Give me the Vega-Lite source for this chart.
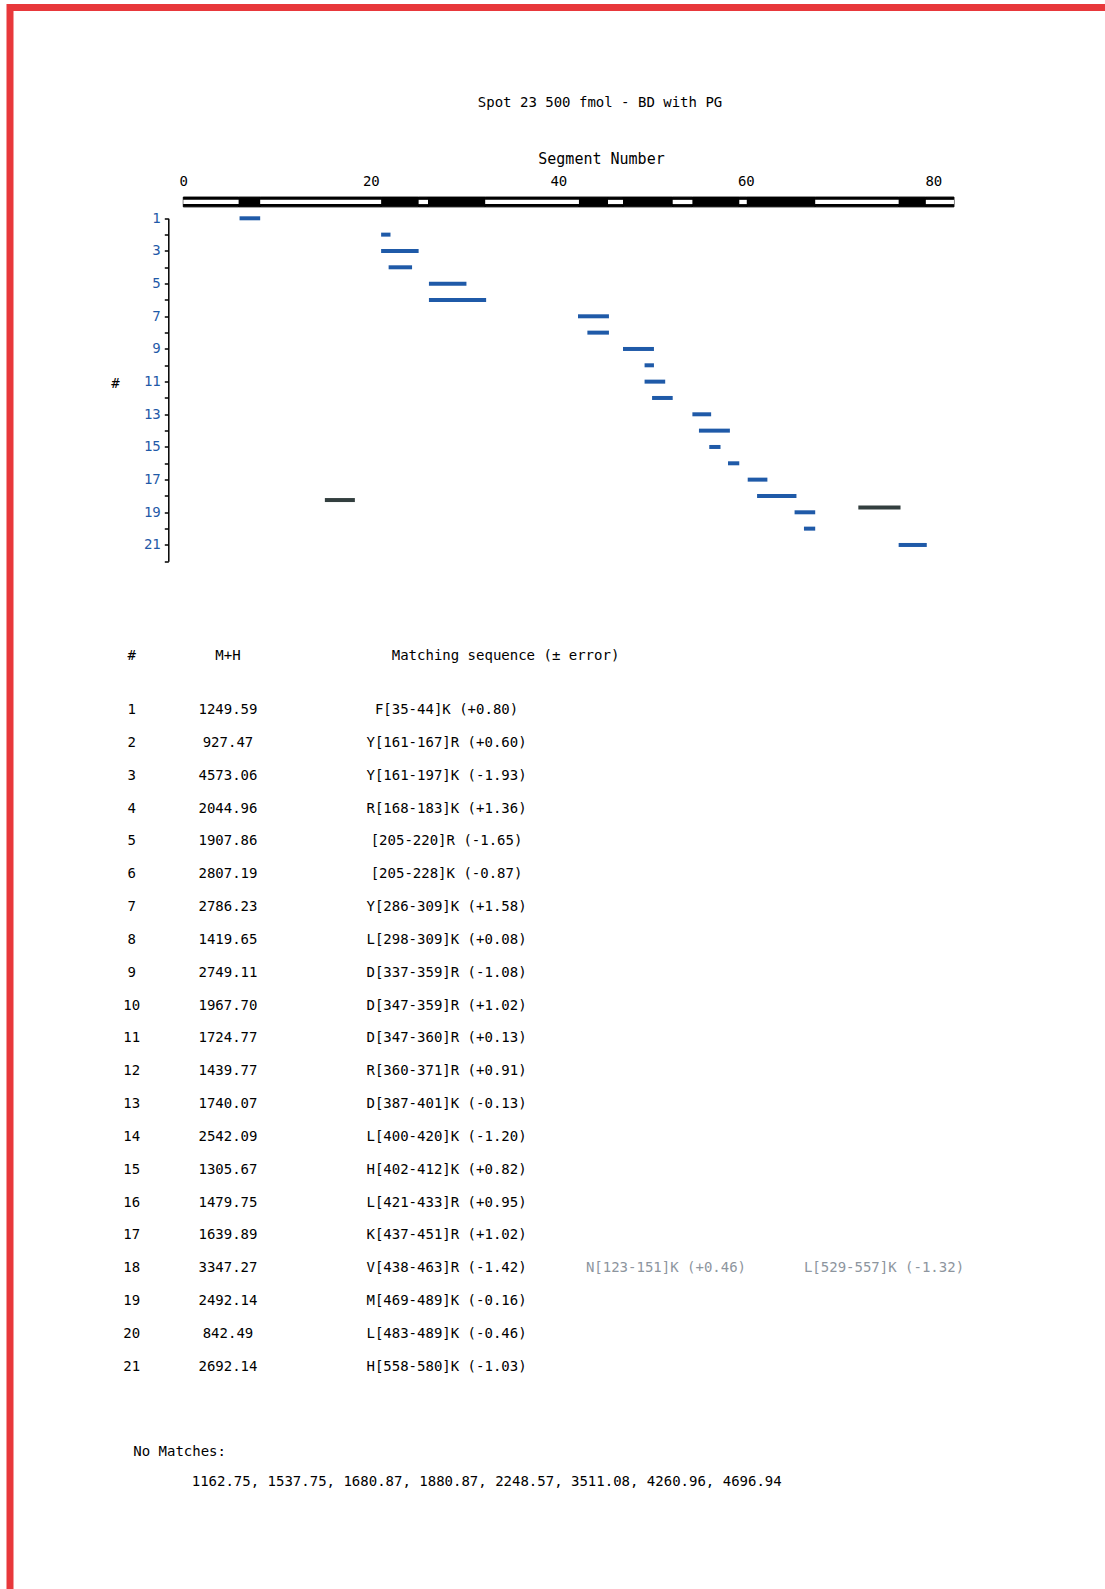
{
  "$schema": "https://vega.github.io/schema/vega-lite/v6.json",
  "width": 1095,
  "height": 1581.5,
  "padding": {"left": 10, "top": 7.5, "right": 0, "bottom": 0},
  "autosize": {"type": "none"},
  "background": "white",
  "config": {
    "view": {"stroke": "#e8383b", "strokeWidth": 7, "strokeDash": [1095, 2676.5, 1581.5], "strokeCap": "square", "fill": "white"},
    "font": "DejaVu Sans Mono",
    "text": {"font": "DejaVu Sans Mono", "fontSize": 14, "color": "#000000", "baseline": "middle"},
    "axis": {"grid": false, "labelFont": "DejaVu Sans Mono", "titleFont": "DejaVu Sans Mono", "labelFontSize": 14, "titleFontSize": 14, "titleFontWeight": "normal", "labelColor": "#000000", "titleColor": "#000000", "domainColor": "#000000", "tickColor": "#000000"}
  },
  "datasets": {
    "coverage": [
      {"start": 0, "end": 5.9, "covered": false},
      {"start": 5.9, "end": 8.2, "covered": true},
      {"start": 8.2, "end": 21.1, "covered": false},
      {"start": 21.1, "end": 25.1, "covered": true},
      {"start": 25.1, "end": 26.1, "covered": false},
      {"start": 26.1, "end": 32.2, "covered": true},
      {"start": 32.2, "end": 42.2, "covered": false},
      {"start": 42.2, "end": 45.3, "covered": true},
      {"start": 45.3, "end": 46.9, "covered": false},
      {"start": 46.9, "end": 52.2, "covered": true},
      {"start": 52.2, "end": 54.3, "covered": false},
      {"start": 54.3, "end": 59.3, "covered": true},
      {"start": 59.3, "end": 60.1, "covered": false},
      {"start": 60.1, "end": 67.4, "covered": true},
      {"start": 67.4, "end": 76.3, "covered": false},
      {"start": 76.3, "end": 79.2, "covered": true},
      {"start": 79.2, "end": 82.2, "covered": false}
    ],
    "matches": [
      {"row": 1, "start": 6.0, "end": 8.2, "kind": "primary"},
      {"row": 2, "start": 21.1, "end": 22.1, "kind": "primary"},
      {"row": 3, "start": 21.1, "end": 25.1, "kind": "primary"},
      {"row": 4, "start": 21.9, "end": 24.4, "kind": "primary"},
      {"row": 5, "start": 26.2, "end": 30.2, "kind": "primary"},
      {"row": 6, "start": 26.2, "end": 32.3, "kind": "primary"},
      {"row": 7, "start": 42.1, "end": 45.4, "kind": "primary"},
      {"row": 8, "start": 43.1, "end": 45.4, "kind": "primary"},
      {"row": 9, "start": 46.9, "end": 50.2, "kind": "primary"},
      {"row": 10, "start": 49.2, "end": 50.2, "kind": "primary"},
      {"row": 11, "start": 49.2, "end": 51.4, "kind": "primary"},
      {"row": 12, "start": 50.0, "end": 52.2, "kind": "primary"},
      {"row": 13, "start": 54.3, "end": 56.3, "kind": "primary"},
      {"row": 14, "start": 55.0, "end": 58.3, "kind": "primary"},
      {"row": 15, "start": 56.1, "end": 57.3, "kind": "primary"},
      {"row": 16, "start": 58.1, "end": 59.3, "kind": "primary"},
      {"row": 17, "start": 60.2, "end": 62.3, "kind": "primary"},
      {"row": 18, "start": 61.2, "end": 65.4, "kind": "primary"},
      {"row": 19, "start": 65.2, "end": 67.4, "kind": "primary"},
      {"row": 20, "start": 66.2, "end": 67.4, "kind": "primary"},
      {"row": 21, "start": 76.3, "end": 79.3, "kind": "primary"},
      {"row": 18.25, "start": 15.1, "end": 18.3, "kind": "alternate"},
      {"row": 18.7, "start": 72.0, "end": 76.5, "kind": "alternate"}
    ],
    "table": [
      {"num": 1, "mh": "1249.59", "seq": "F[35-44]K (+0.80)"},
      {"num": 2, "mh": "927.47", "seq": "Y[161-167]R (+0.60)"},
      {"num": 3, "mh": "4573.06", "seq": "Y[161-197]K (-1.93)"},
      {"num": 4, "mh": "2044.96", "seq": "R[168-183]K (+1.36)"},
      {"num": 5, "mh": "1907.86", "seq": "[205-220]R (-1.65)"},
      {"num": 6, "mh": "2807.19", "seq": "[205-228]K (-0.87)"},
      {"num": 7, "mh": "2786.23", "seq": "Y[286-309]K (+1.58)"},
      {"num": 8, "mh": "1419.65", "seq": "L[298-309]K (+0.08)"},
      {"num": 9, "mh": "2749.11", "seq": "D[337-359]R (-1.08)"},
      {"num": 10, "mh": "1967.70", "seq": "D[347-359]R (+1.02)"},
      {"num": 11, "mh": "1724.77", "seq": "D[347-360]R (+0.13)"},
      {"num": 12, "mh": "1439.77", "seq": "R[360-371]R (+0.91)"},
      {"num": 13, "mh": "1740.07", "seq": "D[387-401]K (-0.13)"},
      {"num": 14, "mh": "2542.09", "seq": "L[400-420]K (-1.20)"},
      {"num": 15, "mh": "1305.67", "seq": "H[402-412]K (+0.82)"},
      {"num": 16, "mh": "1479.75", "seq": "L[421-433]R (+0.95)"},
      {"num": 17, "mh": "1639.89", "seq": "K[437-451]R (+1.02)"},
      {"num": 18, "mh": "3347.27", "seq": "V[438-463]R (-1.42)", "alt1": "N[123-151]K (+0.46)", "alt2": "L[529-557]K (-1.32)"},
      {"num": 19, "mh": "2492.14", "seq": "M[469-489]K (-0.16)"},
      {"num": 20, "mh": "842.49", "seq": "L[483-489]K (-0.46)"},
      {"num": 21, "mh": "2692.14", "seq": "H[558-580]K (-1.03)"}
    ],
    "texts": [
      {"title": "Spot 23 500 fmol - BD with PG", "hNum": "#", "hMh": "M+H", "hSeq": "Matching sequence (± error)", "noMatchLabel": "No Matches:", "noMatchList": "1162.75, 1537.75, 1680.87, 1880.87, 2248.57, 3511.08, 4260.96, 4696.94"}
    ]
  },
  "layer": [
    {
      "layer": [
        {
          "data": {"name": "coverage"},
          "mark": {"type": "rect", "fill": "#000000", "stroke": "#000000", "strokeWidth": 1},
          "encoding": {
            "x": {"field": "start", "type": "quantitative", "scale": {"domain": [-1.6, 82.3], "range": [158.3, 944.9], "nice": false, "zero": false},
              "axis": {"orient": "top", "offset": -174.2, "values": [0, 20, 40, 60, 80], "domain": false, "ticks": false, "tickSize": 0, "labelPadding": 0, "labelBaseline": "middle", "labelFlush": false, "labelOverlap": false, "title": "Segment Number", "titleFontSize": 15, "titleX": 591, "titleY": -23.4, "titleAlign": "center", "titleBaseline": "middle"}},
            "x2": {"field": "end"},
            "y": {"datum": -0.3, "type": "quantitative", "scale": {"domain": [1, 22], "range": [210.8, 553.8], "nice": false, "zero": false},
              "axis": {"orient": "left", "offset": -158.3, "values": [1, 2, 3, 4, 5, 6, 7, 8, 9, 10, 11, 12, 13, 14, 15, 16, 17, 18, 19, 20, 21, 22], "labelExpr": "datum.value % 2 === 1 ? datum.label : ''", "labelColor": "#1f5aa8", "labelOverlap": false, "labelFlush": false, "tickSize": 4, "tickWidth": 1.5, "domainWidth": 1.5, "labelPadding": 4, "title": "#", "titleAngle": 0, "titleX": -53.3, "titleY": 375.5, "titleAlign": "center", "titleBaseline": "middle"}},
            "y2": {"datum": 0.3}
          }
        },
        {
          "data": {"name": "coverage"},
          "transform": [{"filter": "!datum.covered"}],
          "mark": {"type": "rect", "fill": "#ffffff"},
          "encoding": {
            "x": {"field": "start", "type": "quantitative", "scale": {"domain": [-1.6, 82.3], "range": [158.3, 944.9], "nice": false, "zero": false},
              "axis": {"orient": "top", "offset": -174.2, "values": [0, 20, 40, 60, 80], "domain": false, "ticks": false, "tickSize": 0, "labelPadding": 0, "labelBaseline": "middle", "labelFlush": false, "labelOverlap": false, "title": "Segment Number", "titleFontSize": 15, "titleX": 591, "titleY": -23.4, "titleAlign": "center", "titleBaseline": "middle"}},
            "x2": {"field": "end"},
            "y": {"datum": -0.13, "type": "quantitative", "scale": {"domain": [1, 22], "range": [210.8, 553.8], "nice": false, "zero": false},
              "axis": {"orient": "left", "offset": -158.3, "values": [1, 2, 3, 4, 5, 6, 7, 8, 9, 10, 11, 12, 13, 14, 15, 16, 17, 18, 19, 20, 21, 22], "labelExpr": "datum.value % 2 === 1 ? datum.label : ''", "labelColor": "#1f5aa8", "labelOverlap": false, "labelFlush": false, "tickSize": 4, "tickWidth": 1.5, "domainWidth": 1.5, "labelPadding": 4, "title": "#", "titleAngle": 0, "titleX": -53.3, "titleY": 375.5, "titleAlign": "center", "titleBaseline": "middle"}},
            "y2": {"datum": 0.13}
          }
        },
        {
          "data": {"name": "matches"},
          "mark": {"type": "rule", "strokeWidth": 4, "strokeCap": "butt"},
          "encoding": {
            "x": {"field": "start", "type": "quantitative", "scale": {"domain": [-1.6, 82.3], "range": [158.3, 944.9], "nice": false, "zero": false},
              "axis": {"orient": "top", "offset": -174.2, "values": [0, 20, 40, 60, 80], "domain": false, "ticks": false, "tickSize": 0, "labelPadding": 0, "labelBaseline": "middle", "labelFlush": false, "labelOverlap": false, "title": "Segment Number", "titleFontSize": 15, "titleX": 591, "titleY": -23.4, "titleAlign": "center", "titleBaseline": "middle"}},
            "x2": {"field": "end"},
            "y": {"field": "row", "type": "quantitative", "scale": {"domain": [1, 22], "range": [210.8, 553.8], "nice": false, "zero": false},
              "axis": {"orient": "left", "offset": -158.3, "values": [1, 2, 3, 4, 5, 6, 7, 8, 9, 10, 11, 12, 13, 14, 15, 16, 17, 18, 19, 20, 21, 22], "labelExpr": "datum.value % 2 === 1 ? datum.label : ''", "labelColor": "#1f5aa8", "labelOverlap": false, "labelFlush": false, "tickSize": 4, "tickWidth": 1.5, "domainWidth": 1.5, "labelPadding": 4, "title": "#", "titleAngle": 0, "titleX": -53.3, "titleY": 375.5, "titleAlign": "center", "titleBaseline": "middle"}},
            "color": {"field": "kind", "type": "nominal", "scale": {"domain": ["primary", "alternate"], "range": ["#1f5aa8", "#333f3f"]}, "legend": null}
          }
        },
        {
          "data": {"name": "texts"},
          "mark": {"type": "text", "fontSize": 14, "align": "center"},
          "encoding": {
            "x": {"datum": 44.45, "type": "quantitative", "scale": {"domain": [-1.6, 82.3], "range": [158.3, 944.9], "nice": false, "zero": false},
              "axis": {"orient": "top", "offset": -174.2, "values": [0, 20, 40, 60, 80], "domain": false, "ticks": false, "tickSize": 0, "labelPadding": 0, "labelBaseline": "middle", "labelFlush": false, "labelOverlap": false, "title": "Segment Number", "titleFontSize": 15, "titleX": 591, "titleY": -23.4, "titleAlign": "center", "titleBaseline": "middle"}},
            "y": {"datum": -6.04, "type": "quantitative", "scale": {"domain": [1, 22], "range": [210.8, 553.8], "nice": false, "zero": false},
              "axis": {"orient": "left", "offset": -158.3, "values": [1, 2, 3, 4, 5, 6, 7, 8, 9, 10, 11, 12, 13, 14, 15, 16, 17, 18, 19, 20, 21, 22], "labelExpr": "datum.value % 2 === 1 ? datum.label : ''", "labelColor": "#1f5aa8", "labelOverlap": false, "labelFlush": false, "tickSize": 4, "tickWidth": 1.5, "domainWidth": 1.5, "labelPadding": 4, "title": "#", "titleAngle": 0, "titleX": -53.3, "titleY": 375.5, "titleAlign": "center", "titleBaseline": "middle"}},
            "text": {"field": "title"}
          }
        }
      ]
    },
    {
      "layer": [
        {
          "data": {"name": "table"},
          "mark": {"type": "text", "align": "center"},
          "encoding": {
            "x": {"datum": 11.92, "type": "quantitative", "scale": {"domain": [0, 100], "range": [-10, 1095], "nice": false, "zero": false}, "axis": null},
            "y": {"field": "num", "type": "quantitative", "scale": {"domain": [1, 21], "range": [702.5, 1359.2], "nice": false, "zero": false}, "axis": null},
            "text": {"field": "num"}
          }
        },
        {
          "data": {"name": "table"},
          "mark": {"type": "text", "align": "center"},
          "encoding": {
            "x": {"datum": 20.63, "type": "quantitative", "scale": {"domain": [0, 100], "range": [-10, 1095], "nice": false, "zero": false}, "axis": null},
            "y": {"field": "num", "type": "quantitative", "scale": {"domain": [1, 21], "range": [702.5, 1359.2], "nice": false, "zero": false}, "axis": null},
            "text": {"field": "mh"}
          }
        },
        {
          "data": {"name": "table"},
          "mark": {"type": "text", "align": "center"},
          "encoding": {
            "x": {"datum": 40.41, "type": "quantitative", "scale": {"domain": [0, 100], "range": [-10, 1095], "nice": false, "zero": false}, "axis": null},
            "y": {"field": "num", "type": "quantitative", "scale": {"domain": [1, 21], "range": [702.5, 1359.2], "nice": false, "zero": false}, "axis": null},
            "text": {"field": "seq"}
          }
        },
        {
          "data": {"name": "table"},
          "transform": [{"filter": "isValid(datum.alt1)"}],
          "mark": {"type": "text", "align": "center", "color": "#8d959e"},
          "encoding": {
            "x": {"datum": 60.27, "type": "quantitative", "scale": {"domain": [0, 100], "range": [-10, 1095], "nice": false, "zero": false}, "axis": null},
            "y": {"field": "num", "type": "quantitative", "scale": {"domain": [1, 21], "range": [702.5, 1359.2], "nice": false, "zero": false}, "axis": null},
            "text": {"field": "alt1"}
          }
        },
        {
          "data": {"name": "table"},
          "transform": [{"filter": "isValid(datum.alt2)"}],
          "mark": {"type": "text", "align": "center", "color": "#8d959e"},
          "encoding": {
            "x": {"datum": 80.0, "type": "quantitative", "scale": {"domain": [0, 100], "range": [-10, 1095], "nice": false, "zero": false}, "axis": null},
            "y": {"field": "num", "type": "quantitative", "scale": {"domain": [1, 21], "range": [702.5, 1359.2], "nice": false, "zero": false}, "axis": null},
            "text": {"field": "alt2"}
          }
        },
        {
          "data": {"name": "texts"},
          "mark": {"type": "text", "align": "center"},
          "encoding": {
            "x": {"datum": 11.92, "type": "quantitative", "scale": {"domain": [0, 100], "range": [-10, 1095], "nice": false, "zero": false}, "axis": null},
            "y": {"datum": -0.65, "type": "quantitative", "scale": {"domain": [1, 21], "range": [702.5, 1359.2], "nice": false, "zero": false}, "axis": null},
            "text": {"field": "hNum"}
          }
        },
        {
          "data": {"name": "texts"},
          "mark": {"type": "text", "align": "center"},
          "encoding": {
            "x": {"datum": 20.63, "type": "quantitative", "scale": {"domain": [0, 100], "range": [-10, 1095], "nice": false, "zero": false}, "axis": null},
            "y": {"datum": -0.65, "type": "quantitative", "scale": {"domain": [1, 21], "range": [702.5, 1359.2], "nice": false, "zero": false}, "axis": null},
            "text": {"field": "hMh"}
          }
        },
        {
          "data": {"name": "texts"},
          "mark": {"type": "text", "align": "center"},
          "encoding": {
            "x": {"datum": 45.75, "type": "quantitative", "scale": {"domain": [0, 100], "range": [-10, 1095], "nice": false, "zero": false}, "axis": null},
            "y": {"datum": -0.65, "type": "quantitative", "scale": {"domain": [1, 21], "range": [702.5, 1359.2], "nice": false, "zero": false}, "axis": null},
            "text": {"field": "hSeq"}
          }
        },
        {
          "data": {"name": "texts"},
          "mark": {"type": "text", "align": "left"},
          "encoding": {
            "x": {"datum": 12.06, "type": "quantitative", "scale": {"domain": [0, 100], "range": [-10, 1095], "nice": false, "zero": false}, "axis": null},
            "y": {"datum": 23.6, "type": "quantitative", "scale": {"domain": [1, 21], "range": [702.5, 1359.2], "nice": false, "zero": false}, "axis": null},
            "text": {"field": "noMatchLabel"}
          }
        },
        {
          "data": {"name": "texts"},
          "mark": {"type": "text", "align": "left"},
          "encoding": {
            "x": {"datum": 17.35, "type": "quantitative", "scale": {"domain": [0, 100], "range": [-10, 1095], "nice": false, "zero": false}, "axis": null},
            "y": {"datum": 24.5, "type": "quantitative", "scale": {"domain": [1, 21], "range": [702.5, 1359.2], "nice": false, "zero": false}, "axis": null},
            "text": {"field": "noMatchList"}
          }
        }
      ]
    }
  ],
  "resolve": {"scale": {"x": "independent", "y": "independent", "color": "independent"}, "axis": {"x": "independent", "y": "independent"}}
}
